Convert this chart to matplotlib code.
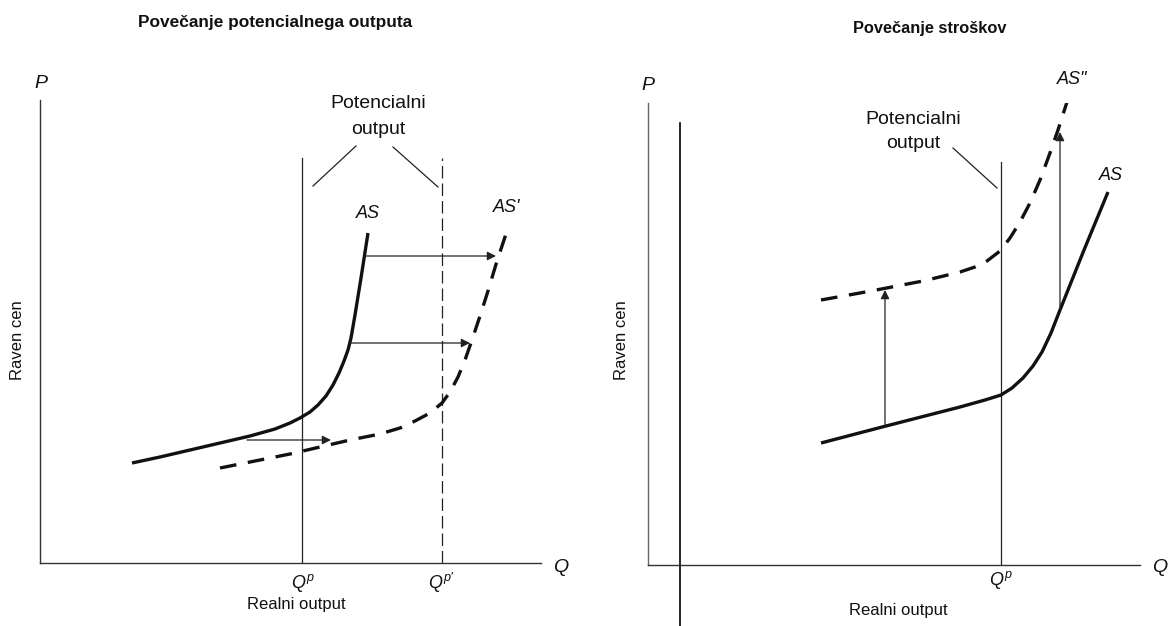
import matplotlib.pyplot as plt

plt.rcParams['font.family'] = ['Liberation Sans', 'DejaVu Sans']
plt.rcParams['mathtext.fontset'] = 'custom'
plt.rcParams['mathtext.it'] = 'Liberation Sans:italic'
plt.rcParams['mathtext.rm'] = 'Liberation Sans'

# ---- leva slika: povecanje potencialnega outputa ----
as_q = [92, 120, 150, 180, 210, 235, 250, 260, 270, 278, 286, 293, 299, 304,
        308, 311, 315, 321, 328]
as_p = [100, 106, 113, 120, 127, 134, 140, 145, 151, 158, 167, 178, 190, 202,
        213, 225, 248, 285, 330]
as1_q = [180, 220, 250, 280, 310, 340, 360, 375, 390, 402, 410, 418, 425, 432,
         440, 448, 457, 467]
as1_p = [95, 103, 109, 116, 123, 129, 135, 142, 150, 160, 171, 186, 203, 223,
         247, 272, 302, 332]
qp_left = 262
qp1_left = 402
line_top_left = 405
shift_from_q = [324, 309, 207]
shift_to_q = [456, 430, 291]
shift_p = [307, 220, 123]

# ---- desna slika: povecanje stroskov ----
asr_q = [173, 238, 312, 337, 353, 364, 375, 385, 394, 403, 412, 424, 436, 448, 460]
asr_p = [122, 139, 158, 165, 170, 177, 187, 199, 213, 232, 255, 285, 315, 344, 373]
as2_q = [173, 223, 275, 312, 327, 339, 352, 362, 372, 382, 392, 402, 410, 419]
as2_p = [265, 274, 284, 293, 298, 304, 314, 327, 343, 362, 385, 412, 435, 463]
qp_right = 353
line_top_right = 403
up_q = [237, 412]
up_from_p = [139, 255]
up_to_p = [275, 433]

W, H = 1171, 626
fig = plt.figure(figsize=(W / 100, H / 100), dpi=100)


def make_axes(x0, y0, x1, y1):
    # x0,y0 = izhodisce (px), x1 = konec osi Q, y1 = vrh osi P
    ax = fig.add_axes([x0 / W, (H - y0) / H, (x1 - x0) / W, (y0 - y1) / H])
    ax.set_xlim(0, x1 - x0)
    ax.set_ylim(0, y0 - y1)
    for s in ['top', 'right']:
        ax.spines[s].set_visible(False)
    for s in ['left', 'bottom']:
        ax.spines[s].set_linewidth(1.0)
        ax.spines[s].set_color('#333333')
    ax.set_xticks([])
    ax.set_yticks([])
    ax.patch.set_alpha(0)
    return ax


def arrow(ax, x0, y0, x1, y1):
    ax.annotate('', xy=(x1, y1), xytext=(x0, y0),
                arrowprops=dict(arrowstyle='-|>', lw=0.9, color='#222222',
                                mutation_scale=13, shrinkA=0, shrinkB=0),
                annotation_clip=False)


txt = dict(color='#111111', clip_on=False, ha='center', va='center')
ital = dict(txt, style='italic')

# ===== leva =====
ax = make_axes(40, 563, 541, 100)
ax.plot([qp_left, qp_left], [0, line_top_left], color='#222222', lw=0.9)
ax.plot([qp1_left, qp1_left], [0, line_top_left], color='#222222', lw=0.9,
        dashes=(10, 4))
ax.plot(as_q, as_p, color='#111111', lw=2.4, solid_capstyle='butt',
        solid_joinstyle='round')
ax.plot(as1_q, as1_p, color='#111111', lw=2.4, dashes=(5, 3.5))
for a, b, p in zip(shift_from_q, shift_to_q, shift_p):
    arrow(ax, a, p, b, p)
ax.plot([273, 316], [377, 417], color='#222222', lw=0.9)
ax.plot([398, 353], [376, 416], color='#222222', lw=0.9)

ax.text(235, 541, 'Povečanje potencialnega outputa', fontsize=12.4,
        fontweight='bold', **txt)
ax.text(338, 459, 'Potencialni', fontsize=14, **txt)
ax.text(338, 434, 'output', fontsize=14, **txt)
ax.text(328, 350, 'AS', fontsize=13, **ital)
ax.text(467, 355, "AS'", fontsize=13, **ital)
ax.text(1, 480, 'P', fontsize=14, **ital)
ax.text(521, -4, 'Q', fontsize=14, **ital)
ax.text(263, -20, r'$Q^{p}$', fontsize=13, **txt)
ax.text(401, -20, r"$Q^{p\prime}$", fontsize=13, **txt)
ax.text(256, -42, 'Realni output', fontsize=12, **txt)
ax.text(-22, 223, 'Raven cen', fontsize=12, rotation=90, **txt)

# ===== desna =====
ax2 = make_axes(648, 565, 1140, 103)
ax2.spines['left'].set_color('#666666')
ax2.plot([32, 32], [442, -61], color='black', lw=1.2, clip_on=False)
ax2.plot([qp_right, qp_right], [0, line_top_right], color='#222222', lw=0.9)
ax2.plot(asr_q, asr_p, color='#111111', lw=2.4, solid_capstyle='butt',
         solid_joinstyle='round')
ax2.plot(as2_q, as2_p, color='#111111', lw=2.4, dashes=(5, 3.5))
for q, a, b in zip(up_q, up_from_p, up_to_p):
    arrow(ax2, q, a, q, b)
ax2.plot([305, 349], [417, 377], color='#222222', lw=0.9)

ax2.text(282, 537, 'Povečanje stroškov', fontsize=11.8, fontweight='bold', **txt)
ax2.text(265, 446, 'Potencialni', fontsize=14, **txt)
ax2.text(265, 421, 'output', fontsize=14, **txt)
ax2.text(424, 485, 'AS"', fontsize=13, **ital)
ax2.text(463, 389, 'AS', fontsize=13, **ital)
ax2.text(0, 480, 'P', fontsize=14, **ital)
ax2.text(512, -3, 'Q', fontsize=14, **ital)
ax2.text(353, -15, r'$Q^{p}$', fontsize=13, **txt)
ax2.text(250, -45, 'Realni output', fontsize=12, **txt)
ax2.text(-27, 225, 'Raven cen', fontsize=12, rotation=90, **txt)

fig.savefig('out.png', dpi=100)
